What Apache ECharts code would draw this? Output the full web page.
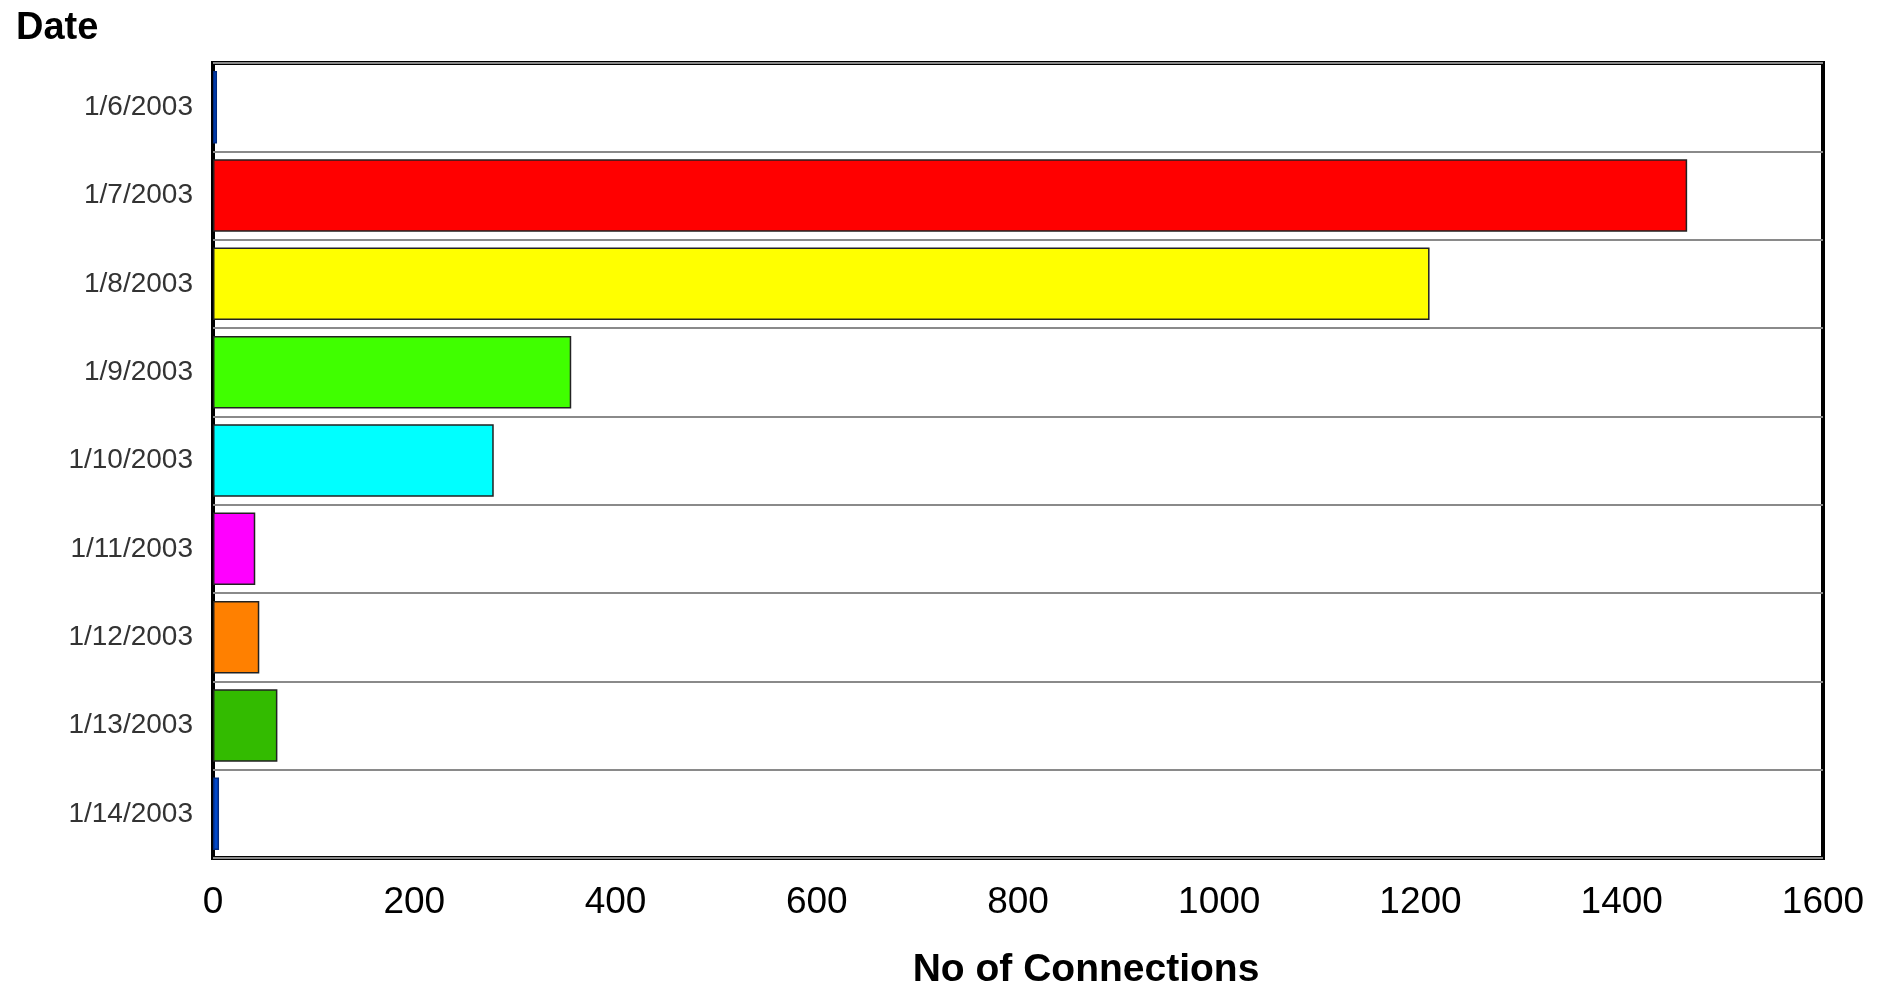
<!DOCTYPE html>
<html>
<head>
<meta charset="utf-8">
<script src="https://cdn.jsdelivr.net/npm/echarts@6/dist/echarts.min.js"></script>
<style>
html,body{margin:0;padding:0;background:#fff;}
#chart{width:1889px;height:986px;}
</style>
</head>
<body>
<div id="chart"></div>
<script>
var categories = ['1/6/2003','1/7/2003','1/8/2003','1/9/2003','1/10/2003','1/11/2003','1/12/2003','1/13/2003','1/14/2003'];
var connections = [4, 1465, 1209, 356, 279, 42, 46, 64, 6];
var barColors = ['#0047c8','#ff0000','#ffff00','#40ff00','#00ffff','#ff00ff','#ff8000','#33bb00','#0047c8'];
var xTicks = {min: 0, max: 1600, interval: 200};
var xTitle = 'No of Connections';
var yTitle = 'Date';

var chart = echarts.init(document.getElementById('chart'), null, {renderer: 'canvas'});
var option = {
  animation: false,
  backgroundColor: '#fff',
  title: [
    {text: yTitle, left: 11, top: 5, textStyle: {fontFamily: 'Liberation Sans', fontWeight: 'bold', fontSize: 38, color: '#000'}},
    {text: xTitle, left: 1081, top: 946, textAlign: 'center', textStyle: {fontFamily: 'Liberation Sans', fontWeight: 'bold', fontSize: 39, color: '#000'}}
  ],
  grid: {left: 213, right: 66, top: 63, bottom: 128, show: true, borderColor: '#000', borderWidth: 4, backgroundColor: '#fff', containLabel: false},
  xAxis: {
    type: 'value', min: xTicks.min, max: xTicks.max, interval: xTicks.interval,
    axisLine: {show: false}, axisTick: {show: false}, splitLine: {show: false},
    axisLabel: {fontFamily: 'Liberation Sans', fontSize: 37, color: '#000', margin: 26,
      formatter: function (v) { return String(v); }}
  },
  yAxis: {
    type: 'category', data: categories, inverse: true,
    axisLine: {show: false}, axisTick: {show: false},
    splitLine: {show: true, interval: 0, lineStyle: {color: '#8a8a8a', width: 2}},
    axisLabel: {fontFamily: 'Liberation Sans', fontSize: 28, color: '#333', margin: 20, padding: [6, 0, 0, 0]}
  },
  series: [{
    type: 'bar',
    data: connections.map(function (v, i) {
      return {value: v, itemStyle: {color: barColors[i], borderColor: (i === 0 || i === 8) ? '#002a80' : '#222', borderWidth: 1.5}};
    }),
    barCategoryGap: '18%'
  }]
};
chart.setOption(option);
</script>
</body>
</html>
